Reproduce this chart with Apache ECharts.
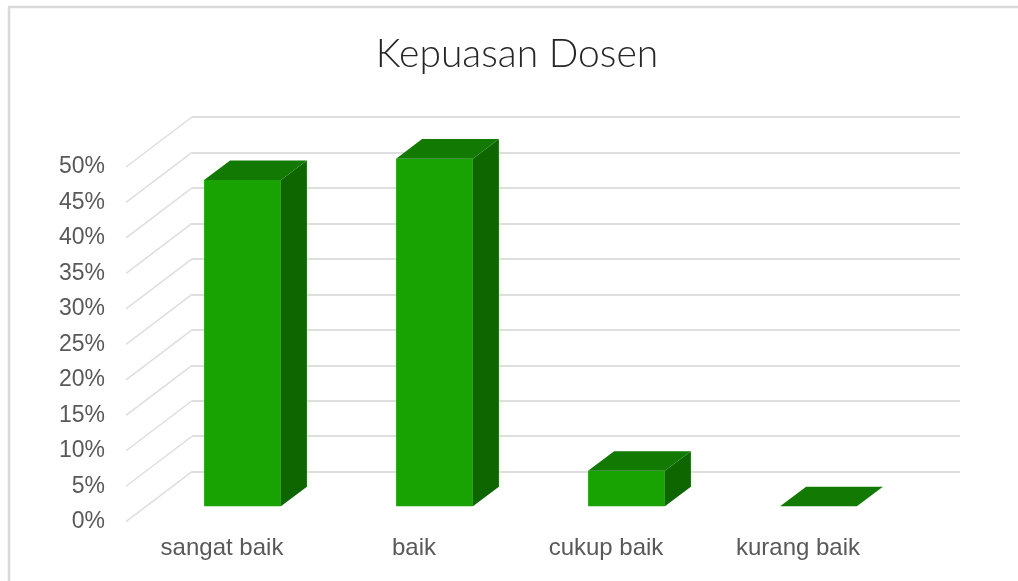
<!DOCTYPE html>
<html>
<head>
<meta charset="utf-8">
<title>Kepuasan Dosen</title>
<script src="https://cdn.jsdelivr.net/npm/echarts@6/dist/echarts.min.js"></script>
<style>
    html, body { margin: 0; padding: 0; background: #fff; }
    #chart { width: 1018px; height: 581px; }
</style>
</head>
<body>
<div id="chart"></div>
<script>
const categories = ['sangat baik', 'baik', 'cukup baik', 'kurang baik']
const values = [46, 49, 5, 0]
const yTicks = [0, 5, 10, 15, 20, 25, 30, 35, 40, 45, 50]

const labelFont = 'Liberation Sans'
const labelColor = '#595959'
const gridColor = '#dedede'

// offset of the back wall from the front plane
const wallDx = 66
const wallDy = -50
// offset of the bars inside the floor, and their own depth
const barDx = 20.5
const barDy = -15.4
const depthDx = 26
const depthDy = -19.6

const chart = echarts.init(document.getElementById('chart'))

// diagonal lines from the front labels to the back wall
const renderDiagonal = (params, api) => {
    const p = api.coord([0, api.value(1)])
    const x = p[0] - api.size([1, 0])[0] / 2
    return {
        type: 'line',
        shape: { x1: x, y1: p[1], x2: x + wallDx, y2: p[1] + wallDy },
        style: { stroke: gridColor, lineWidth: 1.5 }
    }
}

// 3D column: front, side and top faces
const renderBar = (params, api) => {
    const top = api.coord([api.value(0), api.value(1)])
    const base = api.coord([api.value(0), 0])
    const w = api.size([1, 0])[0] * 0.4
    const x0 = top[0] - w / 2 + barDx
    const x1 = x0 + w
    const yTop = top[1] + barDy
    const yBase = base[1] + barDy
    return {
        type: 'group',
        children: [
            {
                type: 'polygon',
                shape: { points: [[x0, yTop], [x1, yTop], [x1, yBase], [x0, yBase]] },
                style: { fill: '#19a303' }
            },
            {
                type: 'polygon',
                shape: { points: [[x1, yTop], [x1 + depthDx, yTop + depthDy], [x1 + depthDx, yBase + depthDy], [x1, yBase]] },
                style: { fill: '#0e6600' }
            },
            {
                type: 'polygon',
                shape: { points: [[x0, yTop], [x0 + depthDx, yTop + depthDy], [x1 + depthDx, yTop + depthDy], [x1, yTop]] },
                style: { fill: '#127a02' }
            }
        ]
    }
}

chart.setOption({
    animation: false,
    backgroundColor: '#fff',
    title: {
        text: 'Kepuasan Dosen',
        left: 512,
        top: 30,
        textAlign: 'center',
        textStyle: {
            fontFamily: 'Lato',
            fontWeight: 300,
            fontSize: 39,
            color: '#262626'
        }
    },
    graphic: [
        { type: 'line', shape: { x1: 8, y1: 7, x2: 1018, y2: 7 }, style: { stroke: '#d9d9d9', lineWidth: 2.5 } },
        { type: 'line', shape: { x1: 9, y1: 7, x2: 9, y2: 581 }, style: { stroke: '#d9d9d9', lineWidth: 2.5 } }
    ],
    grid: [
        { left: 126, top: 167, width: 768, height: 354.7 },
        { left: 192, top: 117, width: 768, height: 354.7 }
    ],
    xAxis: [
        {
            gridIndex: 0,
            type: 'category',
            data: categories,
            axisLine: { show: false },
            axisTick: { show: false },
            axisLabel: { margin: 15, fontFamily: labelFont, fontSize: 24, color: labelColor }
        },
        { gridIndex: 1, type: 'category', data: categories, show: false }
    ],
    yAxis: [
        {
            gridIndex: 0,
            type: 'value',
            min: 0,
            max: 50,
            interval: 5,
            splitLine: { show: false },
            axisLine: { show: false },
            axisTick: { show: false },
            axisLabel: { margin: 21, formatter: '{value}%', fontFamily: labelFont, fontSize: 23, color: labelColor }
        },
        {
            gridIndex: 1,
            type: 'value',
            min: 0,
            max: 50,
            interval: 5,
            axisLine: { show: false },
            axisTick: { show: false },
            axisLabel: { show: false },
            splitLine: { lineStyle: { color: gridColor, width: 2 } }
        }
    ],
    series: [
        {
            type: 'custom',
            xAxisIndex: 0,
            yAxisIndex: 0,
            clip: false,
            silent: true,
            z: 1,
            renderItem: renderDiagonal,
            data: yTicks.map(t => [0, t])
        },
        {
            type: 'custom',
            xAxisIndex: 0,
            yAxisIndex: 0,
            clip: false,
            z: 5,
            renderItem: renderBar,
            data: values.map((v, i) => [i, v])
        }
    ]
})
</script>
</body>
</html>
